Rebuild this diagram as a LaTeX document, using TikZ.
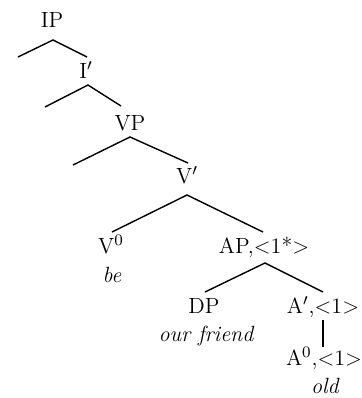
\documentclass[tikz,border=0pt]{standalone}
\begin{document}
\begin{tikzpicture}[x=0.5pt, y=-0.5pt,
  cat/.style={inner sep=0pt, anchor=base, font=\fontsize{11}{13}\selectfont},
  word/.style={inner sep=0pt, anchor=base, font=\fontsize{11}{13}\selectfont\itshape},
  branch/.style={line width=0.7pt}]
\useasboundingbox (0,0) rectangle (362,398);
% IP
\node[cat] (ip) at (52,27){IP};
\coordinate (ipa) at (53,40);
\coordinate (ipl) at (18,57);
\coordinate (ipr) at (87,57);
\draw[branch] (ipl) -- (ipa) -- (ipr);
% I'
\node[cat] (ibar) at (86,78){I$'$};
\coordinate (ibara) at (88,85);
\coordinate (ibarl) at (45,107);
\coordinate (ibarr) at (121,106);
\draw[branch] (ibarl) -- (ibara) -- (ibarr);
% VP
\node[cat] (vp) at (130,130){VP};
\coordinate (vpa) at (130,137);
\coordinate (vpl) at (73,165);
\coordinate (vpr) at (188,163);
\draw[branch] (vpl) -- (vpa) -- (vpr);
% V'
\node[cat] (vbar) at (187,183){V$'$};
\coordinate (vbara) at (187,195);
\coordinate (vbarl) at (112,232);
\coordinate (vbarr) at (263,232);
\draw[branch] (vbarl) -- (vbara) -- (vbarr);
% V0 be
\node[cat] (v0) at (111,253){V$^0$};
\node[word] (be) at (112,282){be};
% AP
\node[cat] (ap) at (264,253){AP,<1*>};
\coordinate (apa) at (265,263);
\coordinate (apl) at (205,292);
\coordinate (apr) at (323,292);
\draw[branch] (apl) -- (apa) -- (apr);
% DP our friend
\node[cat] (dp) at (204,313){DP};
\node[word] (friend) at (206,341){our friend};
% A' -> A0 old
\node[cat] (abar) at (323,313){A$'$,<1>};
\coordinate (abarb) at (323,320);
\coordinate (a0t) at (323,347);
\draw[branch] (abarb) -- (a0t);
\node[cat] (a0) at (324,365){A$^0$,<1>};
\node[word] (old) at (325,393){old};
\end{tikzpicture}
\end{document}
